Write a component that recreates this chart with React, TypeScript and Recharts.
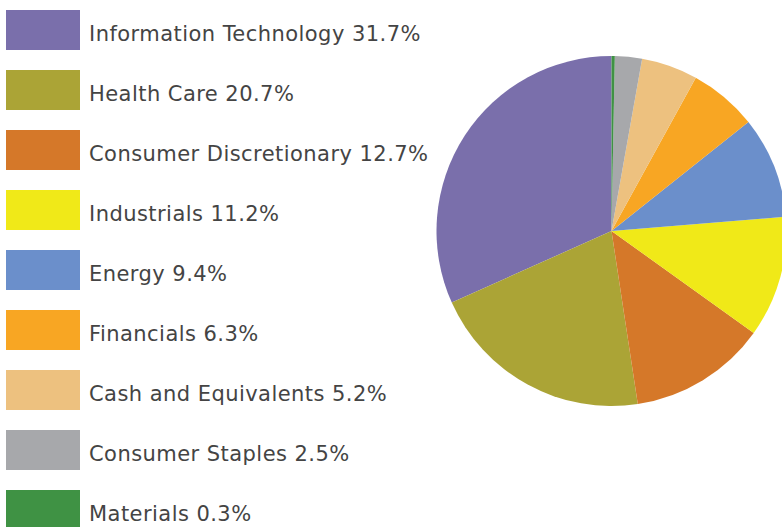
import React from "react";
import { PieChart, Pie, Cell, Legend } from "recharts";

const sectors = [
  "Information Technology",
  "Health Care",
  "Consumer Discretionary",
  "Industrials",
  "Energy",
  "Financials",
  "Cash and Equivalents",
  "Consumer Staples",
  "Materials",
];

const weights = [31.7, 20.7, 12.7, 11.2, 9.4, 6.3, 5.2, 2.5, 0.3];

const COLORS = [
  "#7a6fab",
  "#aba436",
  "#d57829",
  "#f0e918",
  "#6b8fcb",
  "#f8a623",
  "#edc17f",
  "#a7a8ab",
  "#3f9244",
];

const data = sectors.map((name, i) => ({ name, value: weights[i] }));

// legend drawn as plain svg rows: swatch + label
const SectorLegend = () => (
  <svg width={430} height={527} style={{ position: "absolute", left: 0, top: 0 }}>
    {data.map((d, i) => (
      <g key={d.name}>
        <rect x={6} y={10 + i * 60} width={74} height={40} fill={COLORS[i]} />
        <text
          x={89}
          y={40.5 + i * 60}
          fontFamily="DejaVu Sans"
          fontSize={21}
          letterSpacing={0.45}
          fill="#444"
        >
          {`${d.name} ${d.value.toFixed(1)}%`}
        </text>
      </g>
    ))}
  </svg>
);

export default function App() {
  return (
    <div style={{ position: "relative", width: 782, height: 527, overflow: "hidden" }}>
      <style>{`body{margin:0}`}</style>
      <PieChart
        width={782}
        height={527}
        margin={{ top: 0, right: 0, bottom: 0, left: 0 }}
        style={{ position: "absolute", left: 0, top: 0 }}
      >
        <Pie
          data={data}
          dataKey="value"
          nameKey="name"
          cx={611.5}
          cy={231}
          outerRadius={175}
          startAngle={90}
          endAngle={450}
          stroke="none"
          isAnimationActive={false}
        >
          {data.map((entry, index) => (
            <Cell key={`cell-${index}`} fill={COLORS[index]} />
          ))}
        </Pie>
        <Legend content={() => <SectorLegend />} wrapperStyle={{ left: 0, top: 0, width: 430 }} />
      </PieChart>
    </div>
  );
}
